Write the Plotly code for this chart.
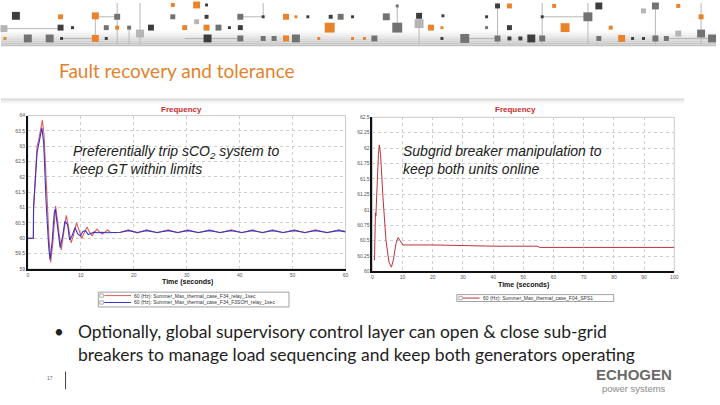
import plotly.graph_objects as go

# ---------------- data ----------------
left_red_t = [0, 1.05, 1.1, 1.5, 1.75, 2.05, 2.4, 2.75, 3.05, 3.5, 4.0, 4.31, 4.75, 5.25, 5.75, 6.31, 6.8, 7.25, 7.7,
              8.19, 8.7, 9.19, 9.7, 10.19, 10.7, 11.19, 11.65, 12.13, 12.6, 13.06, 13.55, 14.06, 14.55, 15.06, 15.6,
              16.5, 17.5, 19.0, 20.7, 22.4, 24.4, 26.5, 28.3, 30.2, 32.2, 34.3, 36.3, 38.4, 40.4, 42.4, 44.3, 46.2,
              48.2, 50.3, 52.3, 54.3, 56.5, 58.7, 60]
left_red_f = [60, 60, 61.0, 62.2, 63.0, 63.2, 63.5, 63.85, 63.4, 61.6, 60.0, 59.22, 59.9, 61.05, 60.3, 59.62, 60.2, 60.75, 60.35,
              59.85, 60.15, 60.5, 60.25, 60.0, 60.2, 60.37, 60.2, 60.08, 60.2, 60.3, 60.2, 60.14, 60.2, 60.27, 60.2,
              60.18, 60.2, 60.28, 60.18, 60.28, 60.18, 60.28, 60.18, 60.28, 60.18, 60.28, 60.18, 60.28, 60.18, 60.28, 60.18, 60.28,
              60.18, 60.28, 60.18, 60.28, 60.18, 60.28, 60.22]

left_blue_t = [0, 1.05, 1.08, 1.5, 1.75, 2.1, 2.4, 2.65, 3.0, 3.45, 3.95, 4.2, 4.6, 5.0, 5.2, 5.7, 6.1, 6.6, 7.0, 7.5,
               7.9, 8.4, 8.9, 9.4, 9.9, 10.4, 10.9, 11.4, 11.9, 12.5, 13.1, 14.0, 15.0, 16.5, 17.5, 19.0, 20.7, 22.4,
               24.4, 26.5, 28.3, 30.2, 32.2, 34.3, 36.3, 38.4, 40.4, 42.4, 44.3, 46.2, 48.2, 50.3, 52.3, 54.3, 56.5,
               58.7, 60]
left_blue_f = [60, 60, 61.0, 62.0, 62.8, 63.1, 63.35, 63.6, 63.1, 61.2, 59.7, 59.3, 59.9, 60.85, 60.95, 60.3, 59.7, 60.1, 60.55, 60.45,
               59.95, 60.1, 60.35, 60.15, 60.08, 60.22, 60.25, 60.12, 60.15, 60.2, 60.18, 60.2, 60.18, 60.2, 60.2, 60.25, 60.19, 60.25,
               60.19, 60.25, 60.19, 60.25, 60.19, 60.25, 60.19, 60.25, 60.19, 60.25, 60.19, 60.25, 60.19, 60.25, 60.19, 60.25, 60.19,
               60.25, 60.21]

right_t = [0.7, 0.9, 0.95, 1.0, 1.05, 1.1, 1.15, 1.6, 2.0, 2.3, 2.7, 3.5, 4.5, 5.5, 6.3, 7.0, 7.8, 8.5, 9.2, 10.1,
           20, 30, 40, 54.5, 55.5, 70, 85, 100]
right_f = [60.18, 60.95, 60.85, 60.95, 60.86, 60.94, 60.9, 61.5, 61.9, 62.05, 61.9, 61.2, 60.5, 60.15, 60.07, 60.2, 60.45, 60.55, 60.5, 60.43,
           60.43, 60.42, 60.41, 60.41, 60.39, 60.39, 60.39, 60.39]

left_names = ["60 (Hz): Summer_Max_thermal_case_F34_relay_1sec",
              "60 (Hz): Summer_Max_thermal_case_F34_F3SOH_relay_1sec"]
right_name = "60 (Hz): Summer_Max_thermal_case_F04_SPS1"

left_xticks = [0, 10, 20, 30, 40, 50, 60]
left_yticks = [59, 59.5, 60, 60.5, 61, 61.5, 62, 62.5, 63, 63.5, 64]
right_xticks = [0, 10, 20, 30, 40, 50, 60, 70, 80, 90, 100]
right_yticks = [60, 60.25, 60.5, 60.75, 61, 61.25, 61.5, 61.75, 62, 62.25, 62.5]

title_text = "Fault recovery and tolerance"
left_note = "Preferentially trip sCO<sub>2</sub> system to<br>keep GT within limits"
right_note = "Subgrid breaker manipulation to<br>keep both units online"
bullet_text = ("Optionally, global supervisory control layer can open &amp; close sub-grid<br>"
               "breakers to manage load sequencing and keep both generators operating")

# ---------------- helpers ----------------
W, H = 720, 405
def X(px): return px / W
def Y(py): return 1 - py / H

RED = "#e35a5a"
BLUE = "#3535c8"
DRED = "#c0303a"

fig = go.Figure()
fig.add_trace(go.Scatter(x=left_red_t, y=left_red_f, mode="lines", line=dict(color=RED, width=1.1),
                         name=left_names[0], xaxis="x", yaxis="y", showlegend=False))
fig.add_trace(go.Scatter(x=left_blue_t, y=left_blue_f, mode="lines", line=dict(color=BLUE, width=1.1),
                         name=left_names[1], xaxis="x", yaxis="y", showlegend=False))
fig.add_trace(go.Scatter(x=right_t, y=right_f, mode="lines", line=dict(color=DRED, width=1.0),
                         name=right_name, xaxis="x2", yaxis="y2", showlegend=False))

tickfont = dict(family="Liberation Sans", size=5, color="#555555")
grid = dict(showgrid=True, gridcolor="#cfcfcf", griddash="dot", gridwidth=1, zeroline=False,
            showline=True, linecolor="#111111", linewidth=1.5, ticks="", tickfont=tickfont)

fig.update_layout(
    width=W, height=H, margin=dict(l=0, r=0, t=0, b=0),
    paper_bgcolor="white", plot_bgcolor="white",
    xaxis=dict(domain=[X(27), X(347)], range=[0, 60], tickvals=left_xticks, anchor="y", **grid),
    yaxis=dict(domain=[Y(270), Y(114.3)], range=[59, 64], tickvals=left_yticks, anchor="x", **grid),
    xaxis2=dict(domain=[X(374), X(678)], range=[0, 100], tickvals=right_xticks, anchor="y2", **grid),
    yaxis2=dict(domain=[Y(272.5), Y(116)], range=[60, 62.5], tickvals=right_yticks, anchor="x2",
                ticktext=[str(v) for v in right_yticks], **grid),
)

shapes = []
# header gradient band
grad = ["#fbfbfb", "#f4f4f4", "#ececec", "#e3e3e3", "#dadada", "#d1d1d1", "#c9c9c9", "#c2c2c2"]
for i, c in enumerate(grad):
    shapes.append(dict(type="rect", xref="paper", yref="paper", x0=0, x1=1, y0=Y(28 + 2 * i + 2), y1=Y(28 + 2 * i),
                       fillcolor=c, line=dict(width=0), layer="below"))
# chart image top shadow
shade = ["#d2d2d2", "#dedede", "#e9e9e9", "#f2f2f2", "#f8f8f8"]
for i, c in enumerate(shade):
    shapes.append(dict(type="rect", xref="paper", yref="paper", x0=0, x1=X(688), y0=Y(97 + i + 1.2), y1=Y(97 + i),
                       fillcolor=c, line=dict(width=0), layer="below"))

# header decoration (circuit pattern)
deco_lines = [(3, 26, 60, 26), (95, 14, 117, 14), (95, 14, 95, 36), (61, 36, 95, 36), (117, 0, 117, 42),
              (129, 25, 129, 42), (140, 0, 140, 42), (185, 36, 240, 36), (467, 36, 500, 36), (545, 14, 591, 14),
              (670, 36, 716, 36), (500, 0, 500, 42), (545, 0, 545, 42), (591, 0, 591, 42), (659, 0, 659, 42),
              (705, 0, 705, 42), (264, 0, 264, 14), (241, 14, 264, 14), (421, 13, 421, 42), (399, 3, 399, 25)]
for x0, y0, x1, y1 in deco_lines:
    shapes.append(dict(type="line", xref="paper", yref="paper", x0=X(x0), y0=Y(y0), x1=X(x1), y1=Y(y1),
                       line=dict(color="#b8b8b8", width=1), layer="below"))
pal = {"d": "#3d3d3d", "g": "#70736f", "l": "#b5b5b5", "o": "#e8832a"}
deco_sq = [(15, 13, 8, "d"), (60, 14, 5, "o"), (95, 13, 7, "o"), (117, 14, 6, "g"), (3, 26, 7, "l"), (60, 25, 6, "d"),
           (72, 25, 3, "d"), (106, 25, 5, "g"), (117, 25, 4, "o"), (129, 25, 4, "g"), (140, 31, 8, "l"), (151, 25, 6, "d"),
           (4, 36, 3, "o"), (27, 36, 8, "g"), (49, 36, 8, "g"), (61, 36, 3, "d"), (95, 36, 7, "o"), (106, 36, 3, "d"),
           (173, 14, 5, "g"), (173, 2, 4, "o"), (197, 2, 7, "o"), (207, 2, 3, "d"), (207, 14, 4, "d"), (185, 25, 5, "o"),
           (197, 19, 5, "l"), (207, 25, 6, "o"), (219, 25, 6, "g"), (230, 25, 3, "d"), (241, 25, 5, "d"), (241, 14, 6, "g"),
           (264, 14, 3, "d"), (287, 14, 6, "o"), (297, 14, 3, "o"), (309, 14, 3, "d"), (332, 14, 4, "d"), (342, 14, 6, "g"),
           (354, 14, 3, "d"), (388, 14, 7, "g"), (399, 3, 3, "g"), (421, 13, 6, "d"), (421, 21, 9, "l"), (445, 13, 3, "d"),
           (331, 25, 10, "o"), (399, 25, 10, "g"), (433, 25, 6, "o"), (444, 25, 3, "o"), (489, 25, 3, "g"), (512, 25, 5, "d"),
           (500, 3, 5, "d"), (512, 3, 5, "o"), (489, 14, 3, "d"), (545, 14, 3, "d"), (591, 14, 9, "g"), (602, 3, 7, "d"),
           (557, 3, 4, "o"), (568, 25, 9, "o"), (614, 25, 4, "o"), (659, 3, 7, "g"), (682, 3, 4, "o"), (705, 14, 5, "o"),
           (647, 8, 5, "l"), (682, 31, 6, "l"), (705, 31, 8, "g"), (208, 36, 8, "d"), (241, 36, 6, "g"), (264, 36, 5, "g"),
           (275, 36, 5, "g"), (287, 36, 6, "o"), (297, 36, 8, "g"), (320, 36, 3, "o"), (354, 36, 3, "o"), (366, 36, 3, "o"),
           (376, 36, 6, "g"), (444, 36, 3, "d"), (467, 36, 9, "g"), (500, 36, 6, "g"), (512, 36, 4, "d"), (523, 36, 4, "d"),
           (534, 36, 8, "d"), (545, 36, 6, "g"), (602, 36, 5, "g"), (625, 36, 7, "o"), (636, 36, 3, "d"), (647, 36, 3, "d"),
           (659, 36, 6, "g"), (670, 36, 5, "g"), (716, 36, 8, "g")]
for cx, cy, s, k in deco_sq:
    shapes.append(dict(type="rect", xref="paper", yref="paper", x0=X(cx - s / 2), x1=X(cx + s / 2),
                       y0=Y(cy + s / 2), y1=Y(cy - s / 2), fillcolor=pal[k], line=dict(width=0), layer="below"))

# plot frames (light gray) for both charts
for xa, ya in (("x", "y"), ("x2", "y2")):
    shapes.append(dict(type="rect", xref=xa + " domain", yref=ya + " domain", x0=0, x1=1, y0=0, y1=1,
                       line=dict(color="#c8c8c8", width=1), layer="below"))

# legend boxes
def legend_box(x0, x1, y0, y1):
    shapes.append(dict(type="rect", xref="paper", yref="paper", x0=X(x0), x1=X(x1), y0=Y(y1), y1=Y(y0),
                       line=dict(color="#8a8a8a", width=0.8), fillcolor="white"))
legend_box(98, 290, 293.5, 308.5)
legend_box(459, 617, 296, 303)
annotations = []
def legend_item(xicon, xl0, xl1, yc, color, text):
    shapes.append(dict(type="rect", xref="paper", yref="paper", x0=X(xicon), x1=X(xicon + 3.5), y0=Y(yc + 1.7),
                       y1=Y(yc - 1.7), line=dict(color="#777777", width=0.6)))
    shapes.append(dict(type="line", xref="paper", yref="paper", x0=X(xl0), x1=X(xl1), y0=Y(yc), y1=Y(yc),
                       line=dict(color=color, width=1)))
    annotations.append(dict(xref="paper", yref="paper", x=X(xl1 + 1), y=Y(yc), text=text, showarrow=False,
                            xanchor="left", yanchor="middle",
                            font=dict(family="Liberation Sans", size=5, color="#333333")))
legend_item(99.5, 104, 131, 297, RED, left_names[0])
legend_item(99.5, 104, 131, 304, BLUE, left_names[1])
legend_item(461, 465, 482, 299.5, DRED, right_name)

# page footer line
shapes.append(dict(type="line", xref="paper", yref="paper", x0=X(65), x1=X(65), y0=Y(392), y1=Y(374),
                   line=dict(color="#444444", width=1)))

def ann(x, y, text, size, color, family="Liberation Sans", xanchor="center", yanchor="middle", align="left"):
    annotations.append(dict(xref="paper", yref="paper", x=X(x), y=Y(y), text=text, showarrow=False,
                            xanchor=xanchor, yanchor=yanchor, align=align,
                            font=dict(family=family, size=size, color=color)))

ann(56, 69, title_text, 19, "#e2832c", family="Lato", xanchor="left")
ann(182, 108, "<b>Frequency</b>", 8, "#cc2b2b")
ann(518, 108, "<b>Frequency</b>", 8, "#cc2b2b")
ann(188, 283, "<b>Time (seconds)</b>", 7, "#111111")
ann(526, 286, "<b>Time (seconds)</b>", 7, "#111111")
ann(70, 159, "<i>" + left_note + "</i>", 14, "#222222", xanchor="left")
ann(403, 159, "<i>" + right_note + "</i>", 14, "#222222", xanchor="left")
ann(58, 333, "•", 17, "#222222", family="Lato")
ann(76, 345, bullet_text, 17.5, "#1e1e1e", family="Lato", xanchor="left")
ann(49, 381, "17", 5, "#666666")
ann(637, 377, "<b>ECHOGEN</b>", 15, "#6a6a6a", family="Liberation Sans")
ann(637, 391, "power systems", 9.5, "#8a8a8a", family="Liberation Sans")

fig.update_layout(shapes=shapes, annotations=annotations)
fig.write_html("out.html")
